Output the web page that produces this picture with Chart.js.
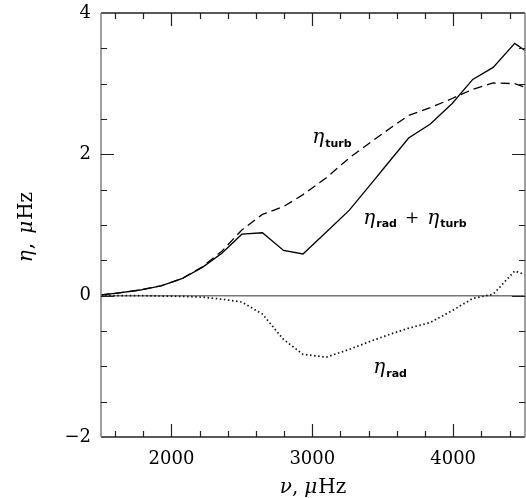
<!DOCTYPE html>
<html>
<head>
<meta charset="utf-8">
<script src="https://cdn.jsdelivr.net/npm/chart.js@4"></script>
<style>
  html, body { margin: 0; padding: 0; background: #fff; }
  #wrap { width: 526px; height: 498px; }
</style>
</head>
<body>
<div id="wrap"><canvas id="c" width="526" height="498"></canvas></div>
<script>
// ---- data ----
const nu        = [1500, 1630, 1777, 1926, 2074, 2220, 2358, 2500, 2646, 2796, 2934, 3100, 3263, 3420, 3560, 3684, 3838, 3993, 4139, 4284, 4437, 4510];
const etaTotal  = [0.01, 0.04, 0.08, 0.14, 0.24, 0.40, 0.60, 0.87, 0.89, 0.64, 0.59, 0.90, 1.21, 1.59, 1.93, 2.23, 2.43, 2.72, 3.06, 3.23, 3.57, 3.47];
const etaTurb   = [0.01, 0.04, 0.08, 0.14, 0.24, 0.41, 0.63, 0.93, 1.15, 1.26, 1.43, 1.67, 1.95, 2.18, 2.38, 2.55, 2.66, 2.79, 2.92, 3.01, 3.00, 2.95];
const etaRad    = [0.00, 0.00, 0.00, -0.005, -0.01, -0.02, -0.05, -0.09, -0.26, -0.62, -0.83, -0.87, -0.76, -0.64, -0.54, -0.46, -0.38, -0.21, -0.04, 0.02, 0.35, 0.30];
const xTickLabels = [2000, 3000, 4000];
const yTickLabels = [-2, 0, 2, 4];
const seriesNames = ['η_rad + η_turb', 'η_turb', 'η_rad'];

// curve annotations (anchor in data coordinates)
const annotations = [
  { parts: [['η', 'sub:turb']], x: 3000, y: 2.16 },
  { parts: [['η', 'sub:rad'], ['+'], ['η', 'sub:turb']], x: 3362, y: 1.02 },
  { parts: [['η', 'sub:rad']], x: 3433, y: -1.10 }
];

const toPts = (ys) => nu.map((v, i) => ({ x: v, y: ys[i] }));

const serif = '"DejaVu Serif", serif';

const decorPlugin = {
  id: 'decor',
  beforeDatasetsDraw(chart) {
    const { ctx, chartArea: a, scales: { y } } = chart;
    const y0 = y.getPixelForValue(0);
    ctx.save();
    ctx.strokeStyle = '#777';
    ctx.lineWidth = 1.5;
    ctx.beginPath();
    ctx.moveTo(a.left, y0);
    ctx.lineTo(a.right, y0);
    ctx.stroke();
    ctx.restore();
  },
  afterDatasetsDraw(chart) {
    const { ctx, chartArea: a, scales: { x, y } } = chart;
    ctx.save();
    // frame
    ctx.lineWidth = 1.5;
    ctx.strokeStyle = '#222';
    ctx.beginPath();
    ctx.moveTo(a.left, a.top); ctx.lineTo(a.right, a.top);
    ctx.moveTo(a.left, a.bottom); ctx.lineTo(a.right, a.bottom);
    ctx.stroke();
    ctx.strokeStyle = '#808080';
    ctx.beginPath();
    ctx.moveTo(a.left, a.top); ctx.lineTo(a.left, a.bottom);
    ctx.moveTo(a.right, a.top); ctx.lineTo(a.right, a.bottom);
    ctx.stroke();
    // inward ticks
    ctx.strokeStyle = '#222';
    ctx.lineWidth = 1.2;
    ctx.beginPath();
    for (let v = 1600; v <= 4400; v += 200) {
      const px = Math.round(x.getPixelForValue(v)) + 0.5;
      const len = (v % 1000 === 0) ? 13 : 6;
      ctx.moveTo(px, a.bottom); ctx.lineTo(px, a.bottom - len);
      ctx.moveTo(px, a.top); ctx.lineTo(px, a.top + len);
    }
    for (let v = -1.5; v <= 3.5; v += 0.5) {
      const py = Math.round(y.getPixelForValue(v)) + 0.5;
      const len = (Math.abs(v % 2) < 1e-9) ? 13 : 6;
      ctx.moveTo(a.left, py); ctx.lineTo(a.left + len, py);
      ctx.moveTo(a.right, py); ctx.lineTo(a.right - len, py);
    }
    ctx.stroke();

    // annotations
    ctx.fillStyle = '#000';
    ctx.textBaseline = 'alphabetic';
    ctx.textAlign = 'left';
    annotations.forEach(an => {
      let cx = x.getPixelForValue(an.x);
      const by = y.getPixelForValue(an.y);
      an.parts.forEach((grp, gi) => {
        if (gi > 0) cx += 8;
        grp.forEach(p => {
          if (p.startsWith('sub:')) {
            ctx.font = 'bold 11px "DejaVu Sans", sans-serif';
            const t = p.slice(4);
            ctx.fillText(t, cx + 1, by + 3.5);
            cx += ctx.measureText(t).width + 1;
          } else if (p === '+') {
            ctx.font = '17px ' + serif;
            ctx.fillText('+', cx, by - 1);
            cx += ctx.measureText('+').width;
          } else {
            ctx.font = 'italic 20px ' + serif;
            ctx.fillText(p, cx, by);
            cx += ctx.measureText(p).width;
          }
        });
      });
    });

    // axis titles
    const drawRuns = (runs, cxCenter, baseY) => {
      let w = 0;
      runs.forEach(r => { ctx.font = r[1]; w += ctx.measureText(r[0]).width + (r[2] || 0); });
      let cx = cxCenter - w / 2;
      runs.forEach(r => { ctx.font = r[1]; ctx.fillText(r[0], cx, baseY); cx += ctx.measureText(r[0]).width + (r[2] || 0); });
    };
    const it = 'italic 20px ' + serif, rm = '20px ' + serif;
    drawRuns([['ν', it], [',', rm, 6], ['μ', it, 1], ['Hz', rm]], (a.left + a.right) / 2 + 0, 493);
    ctx.save();
    ctx.translate(32, (a.top + a.bottom) / 2 + 2);
    ctx.rotate(-Math.PI / 2);
    drawRuns([['η', it, 1], [',', rm, 9], ['μ', it, 1], ['Hz', rm]], 0, 0);
    ctx.restore();

    ctx.restore();
  }
};

new Chart(document.getElementById('c'), {
  type: 'scatter',
  data: {
    datasets: [
      { label: seriesNames[0], data: toPts(etaTotal), showLine: true, borderColor: '#000', borderWidth: 1.3, pointRadius: 0, fill: false, tension: 0 },
      { label: seriesNames[1], data: toPts(etaTurb), showLine: true, borderColor: '#000', borderWidth: 1.3, borderDash: [9, 5], pointRadius: 0, fill: false, tension: 0 },
      { label: seriesNames[2], data: toPts(etaRad), showLine: true, borderColor: '#111', borderWidth: 1.7, borderDash: [1.5, 2.6], pointRadius: 0, fill: false, tension: 0 }
    ]
  },
  options: {
    responsive: false,
    animation: false,
    layout: { padding: { top: 13, right: 1, left: 0, bottom: 0 } },
    plugins: { legend: { display: false }, tooltip: { enabled: false } },
    scales: {
      x: {
        type: 'linear', min: 1500, max: 4510,
        afterBuildTicks: (s) => { s.ticks = xTickLabels.map(v => ({ value: v })); },
        afterFit: (s) => { s.height = 61; s.paddingLeft = 0; s.paddingRight = 0; },
        grid: { display: false, drawTicks: false },
        border: { display: false },
        ticks: { color: '#000', padding: 12, maxRotation: 0, font: { family: '"DejaVu Serif", serif', size: 18 },
          callback: (v) => String(v) }
      },
      y: {
        type: 'linear', min: -2, max: 4,
        afterBuildTicks: (s) => { s.ticks = yTickLabels.map(v => ({ value: v })); },
        afterFit: (s) => { s.width = 101; s.paddingTop = 0; s.paddingBottom = 0; },
        grid: { display: false, drawTicks: false },
        border: { display: false },
        ticks: { color: '#000', padding: 10, font: { family: '"DejaVu Serif", serif', size: 18 },
          callback: (v) => v < 0 ? '\u2212' + Math.abs(v) : String(v) }
      }
    }
  },
  plugins: [decorPlugin]
});
</script>
</body>
</html>
